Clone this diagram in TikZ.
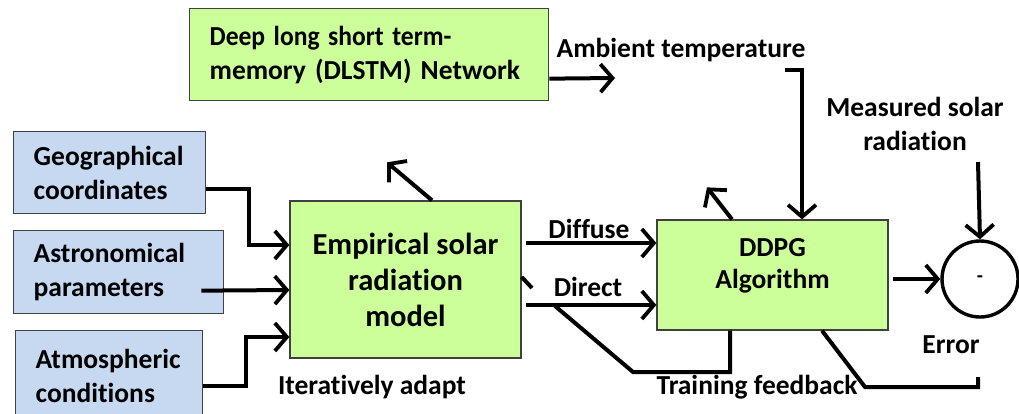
\documentclass[tikz,border=0pt]{standalone}
\usepackage{fontspec}
\usepackage{graphicx}
\setmainfont{Carlito}[Ligatures=NoCommon]
\usetikzlibrary{arrows.meta,calc}
\definecolor{boxgreen}{HTML}{CCFF99}
\definecolor{boxblue}{HTML}{C6D9F1}
\definecolor{boxline}{HTML}{404040}
\begin{document}
\begin{tikzpicture}[x=1pt,y=-1pt,
  every node/.style={font=\bfseries\fontsize{27.5}{34}\selectfont},
  gbox/.style={draw=boxline,line width=1.3pt,fill=boxgreen,rectangle,inner sep=0pt},
  bbox/.style={draw=boxline,line width=1.3pt,fill=boxblue,rectangle,inner sep=0pt,
    inner xsep=20pt,align=left},
  lbl/.style={inner sep=0pt,align=center},
  wire/.style={line width=4pt,line join=miter},
  arr/.style={wire,-{Straight Barb[length=12pt,width=28pt,line width=3.8pt]}}]
\useasboundingbox (0,0) rectangle (1019,413);
\begin{scope}
\clip (0,0) rectangle (1019,413);

% input boxes
\node[bbox,minimum width=192,minimum height=82,text width=152,anchor=north west] (geo) at (13,131) {Geographical\\coordinates};
\node[bbox,minimum width=210,minimum height=83,text width=170,anchor=north west] (ast) at (13,230) {Astronomical\\parameters};
\node[bbox,minimum width=187,minimum height=90,text width=147,anchor=north west] (atm) at (15,330) {Atmospheric\\conditions};
\end{scope}

% processing blocks
\node[gbox,minimum width=359,minimum height=92,text width=319,inner xsep=20pt,align=left,anchor=north west] (dlstm) at (189,8) {\scalebox{0.93}[1]{Deep long short term-}\\\mbox{memory (DLSTM) Network}};
\node[gbox,minimum width=231,minimum height=157,align=center,font=\bfseries\fontsize{30.5}{36}\selectfont] (emp) at (405.5,279.5) {Empirical solar\\radiation\\model};
\node[gbox,minimum width=231,minimum height=110] (ddpg) at (772.5,275) {};
\node[lbl,font=\bfseries\fontsize{27.5}{32}\selectfont] (ddpgtxt) at (772.5,266) {DDPG\\Algorithm};
\node[draw,line width=3.4pt,circle,minimum size=76,inner sep=0pt,font=\bfseries\fontsize{20}{22}\selectfont] (circ) at (980,279) {-};

% inputs into the empirical model
\draw[arr] ([yshift=-16pt]geo.east) -- ++(43,0) |- ([yshift=34.5pt]emp.west);
\draw[arr] ([xshift=-23pt,yshift=-18.5pt]ast.east) -- ([yshift=-10.5pt]emp.west);
\draw[arr] ([yshift=-10pt]atm.east) -- ++(43,0) |- ([yshift=-57.5pt]emp.west);

% model outputs
\draw[arr] ([xshift=26.5pt]emp.north) -- ++(-45,-38);
\draw[arr] ([xshift=4pt,yshift=36.5pt]emp.east) -- ([yshift=32pt]ddpg.west);
\draw[arr] ([xshift=4pt,yshift=-25.5pt]emp.east) -- ([yshift=-30pt]ddpg.west);
\node[lbl] (diffuse) at (589,229) {Diffuse};
\node[lbl] (direct) at (588,287) {Direct};

% temperature forecast
\coordinate (tempend) at (615,78);
\draw[arr] ([yshift=-24pt]dlstm.east) -- (tempend);
\node[lbl] (ambient) at (681,50) {Ambient temperature};
\coordinate (temptop) at (785,70);
\draw[arr] (temptop) -- (802,70) -- ([xshift=29.5pt]ddpg.north);

% DDPG outputs
\draw[arr] ([xshift=-40.5pt]ddpg.north) -- ++(-25,-32);
\draw[arr] ($(ddpg.east |- circ.west)+(4,0)$) -- (circ.west);

% measured signal
\coordinate (meastop) at (978,162);
\draw[arr] (meastop) -- (circ.north);
\node[lbl] (measured) at (915,124) {Measured solar\\radiation};
\node[lbl] (error) at (951,345) {Error};

% feedback paths
\coordinate (fbturn) at (633,372);
\draw[wire] ([xshift=-42.5pt]ddpg.south) |- (fbturn) -- (555,306);
\coordinate (stubA) at (532,288);
\draw[wire] (stubA) -- ([yshift=2.5pt]emp.east);
\coordinate (errstub) at (978,377);
\draw[wire] (errstub) |- (865,387) -- ([xshift=49.5pt]ddpg.south);
\node[lbl] (training) at (757,387) {Training feedback};
\node[lbl] (iter) at (372,387) {Iteratively adapt};
\end{tikzpicture}
\end{document}
